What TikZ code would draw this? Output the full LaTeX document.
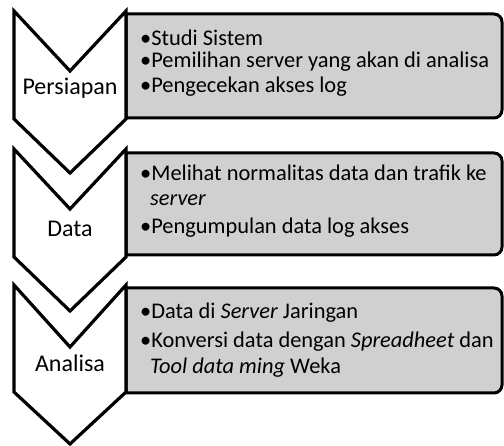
\documentclass[tikz,border=0pt]{standalone}
\usepackage{fontspec}
\setmainfont{Carlito}
\begin{document}
\begin{tikzpicture}[x=1pt,y=-1pt,
  chev/.style={draw=black,fill=white,line width=3.2pt,line join=miter},
  panel/.style={draw=black,fill=boxgray,line width=3pt},
  lbl/.style={font=\fontsize{24}{28}\selectfont,anchor=base,inner sep=0pt},
  item/.style={font=\fontsize{22.4}{26}\selectfont,anchor=base west,inner sep=0pt}]
\definecolor{boxgray}{RGB}{208,208,208}
\useasboundingbox (0,0) rectangle (504,446);
% panels
\draw[panel] (126,14) -- (300,14) {[rounded corners=8pt] -- (502,14) -- (502,118) -- (300,118)} -- (126,118) -- cycle;
\draw[panel] (126,153) -- (300,153) {[rounded corners=8pt] -- (502,153) -- (502,255) -- (300,255)} -- (126,255) -- cycle;
\draw[panel] (126,288) -- (300,288) {[rounded corners=8pt] -- (502,288) -- (502,393) -- (300,393)} -- (126,393) -- cycle;
% chevrons
\draw[chev] (14,11) -- (70,71) -- (126,11) -- (126,119) -- (70,173) -- (14,119) -- cycle;
\draw[chev] (14,149) -- (70,209) -- (126,149) -- (126,257) -- (70,311) -- (14,257) -- cycle;
\draw[chev] (14,285) -- (70,347) -- (126,285) -- (126,392) -- (70,444) -- (14,392) -- cycle;
% labels
\node[lbl] (l1) at (70,95) {Persiapan};
\node[lbl] (l2) at (70,237) {Data};
\node[lbl] (l3) at (70,372) {Analisa};
% items
\node[item] (a1) at (140,46) {•Studi Sistem};
\node[item] (a2) at (140,68) {•Pemilihan server yang akan di analisa};
\node[item] (a3) at (140,93) {•Pengecekan akses log};
\node[item] (b1) at (140,181) {•Melihat normalitas data dan trafik ke};
\node[item] (b2) at (150,206) {\itshape server};
\node[item] (b3) at (140,234) {•Pengumpulan data log akses};
\node[item] (c1) at (140,319) {•Data di \textit{Server} Jaringan};
\node[item] (c2) at (140,348) {•Konversi data dengan \textit{Spreadheet} dan};
\node[item] (c3) at (150,374) {\textit{Tool data ming} Weka};
\end{tikzpicture}
\end{document}
